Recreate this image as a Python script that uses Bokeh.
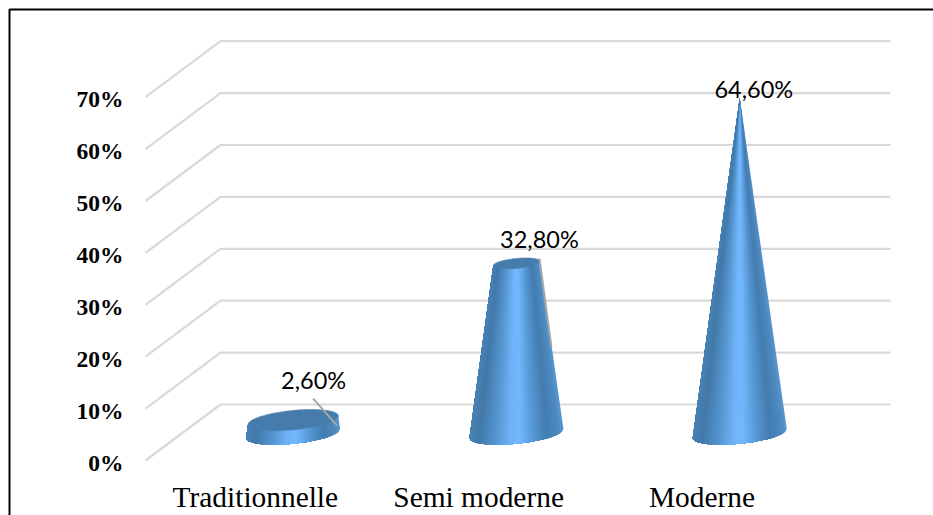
import numpy as np
from bokeh.embed import file_html
from bokeh.resources import INLINE
from bokeh.plotting import figure
from bokeh.models import Range1d, FixedTicker
from bokeh.core.properties import value

categories = ["Traditionnelle", "Semi moderne", "Moderne"]
values = [2.6, 32.8, 64.6]
value_labels = ["2,60%", "32,80%", "64,60%"]
y_ticks = [0, 10, 20, 30, 40, 50, 60, 70]
y_tick_labels = ["0%", "10%", "20%", "30%", "40%", "50%", "60%", "70%"]

# layout constants (pixels on the page)
PX_X, PX_Y = 223.3, 5.19      # px per category, px per percent
X0_PAGE, Y0_PAGE = 145.0, 460.0
W, H = 933, 515
DEPTH_X, DEPTH_Y = 75 / PX_X, 56 / PX_Y
MID = 0.48
RADIUS = 47 / PX_X
MINOR, TILT = 0.215, 0.096
CONE_MAX = max(values)

def page_x(d): return -0.5 + (d - X0_PAGE) / PX_X
def page_y(d): return (Y0_PAGE - d) / PX_Y

p = figure(width=W, height=H, output_backend="svg", toolbar_location=None,
           x_range=Range1d(page_x(0), page_x(W)),
           y_range=Range1d(page_y(H), page_y(0)),
           min_border_left=0, min_border_right=0, min_border_top=0, min_border_bottom=0)
# the axis labels sit a little off the ticks in the reference
p.extra_x_ranges = {"labels": Range1d(page_x(0) + 1.8 / PX_X, page_x(W) + 1.8 / PX_X)}
p.extra_y_ranges = {"labels": Range1d(page_y(H) + 2.0 / PX_Y, page_y(0) + 2.0 / PX_Y)}
p.outline_line_color = None
p.grid.visible = False
p.background_fill_color = "white"
p.border_fill_color = "white"

# walls and floor lines
xs, ys = [], []
for t in y_ticks:
    xs.append([-0.5, -0.5 + DEPTH_X, -0.5 + DEPTH_X + 3.0])
    ys.append([t, t + DEPTH_Y, t + DEPTH_Y])
p.multi_line(xs, ys, line_color="#d9d9d9", line_width=2.2)

# cones
stops_f = [0.0, 0.05, 0.17, 0.30, 0.47, 0.56, 0.72, 0.90, 1.0]
stops_c = [(0x58, 0x98, 0xd0), (0x4e, 0x8a, 0xc0), (0x44, 0x7d, 0xb0), (0x54, 0x94, 0xce),
           (0x74, 0xb9, 0xff), (0x70, 0xb4, 0xf8), (0x56, 0x96, 0xd0), (0x42, 0x79, 0xaa), (0x49, 0x82, 0xb4)]

def shade(f):
    return "#%02x%02x%02x" % tuple(int(np.interp(f, stops_f, [c[k] for c in stops_c])) for k in range(3))

def ring(cx, cy, r, th):
    dx = r * np.cos(th)
    dy = r * PX_X * (MINOR * np.sin(th) + TILT * np.cos(th)) / PX_Y
    return cx + dx, cy + dy

fr = np.linspace(0, 1, 61)
th = 2 * np.pi - np.arccos(1 - 2 * fr)
for i, v in enumerate(values):
    cx = i + MID * DEPTH_X
    cy = MID * DEPTH_Y
    r_top = RADIUS * (1 - v / CONE_MAX)
    bx, by = ring(cx, cy, RADIUS, th)
    tx, ty = ring(cx, cy + v, r_top, th)
    # painted left to right, each piece reaching to the far side, so no seams show
    for k in range(len(th) - 1):
        c = shade(0.5 * (fr[k] + fr[k + 1]))
        px = np.concatenate([bx[k:], tx[k:][::-1]])
        py = np.concatenate([by[k:], ty[k:][::-1]])
        p.patch(px, py, fill_color=c, line_color=None)
    if r_top > 0:
        a = np.linspace(0, 2 * np.pi, 90)
        ex, ey = ring(cx, cy + v, r_top, a)
        p.patch(ex, ey, fill_color="#467cac", line_color="#4a82b4", line_width=0.6)

# leader lines (offsets in px from the top of each cone)
leaders = [((20, -21.5), (44, 5.5)), ((23, -5), (35, 84)), None]
for i, v in enumerate(values):
    if leaders[i] is None:
        continue
    cx, cy = i + MID * DEPTH_X, MID * DEPTH_Y + v
    (a, b), (c, d) = leaders[i]
    p.line([cx + a / PX_X, cx + c / PX_X], [cy - b / PX_Y, cy - d / PX_Y], line_color="#a6a6a6", line_width=2)

# data labels
label_dx = [20.5, 23, 14]
label_dy = [-40.5, -24, -9]
p.text(x=[i + MID * DEPTH_X for i in range(3)], y=[MID * DEPTH_Y + v for v in values], text=value_labels,
       x_offset=label_dx, y_offset=label_dy, text_align="center", text_baseline="middle",
       text_font=value("Lato"), text_font_size="23.5px", text_color="#000000")

# axes
ya = p.yaxis[0]
ya.y_range_name = "labels"
ya.fixed_location = -0.5
ya.ticker = FixedTicker(ticks=y_ticks)
ya.major_label_overrides = {t: s for t, s in zip(y_ticks, y_tick_labels)}
ya.axis_line_color = None
ya.major_tick_line_color = None
ya.minor_tick_line_color = None
ya.major_label_standoff = 16
ya.major_label_text_font = "Liberation Serif"
ya.major_label_text_font_style = "bold"
ya.major_label_text_font_size = "23.5px"
ya.major_label_text_color = "#000000"

xa = p.xaxis[0]
xa.x_range_name = "labels"
xa.fixed_location = 0
xa.ticker = FixedTicker(ticks=[0, 1, 2])
xa.major_label_overrides = {i: c for i, c in enumerate(categories)}
xa.axis_line_color = None
xa.major_tick_line_color = None
xa.minor_tick_line_color = None
xa.major_label_standoff = 14
xa.major_label_text_font = "Liberation Serif"
xa.major_label_text_font_size = "29.4px"
xa.major_label_text_color = "#000000"

# black frame lines at the top and left
p.line([page_x(9), page_x(9), page_x(W)], [page_y(H), page_y(9), page_y(9)], line_color="#000000", line_width=2)

open("out.html", "w").write(file_html(p, INLINE))
